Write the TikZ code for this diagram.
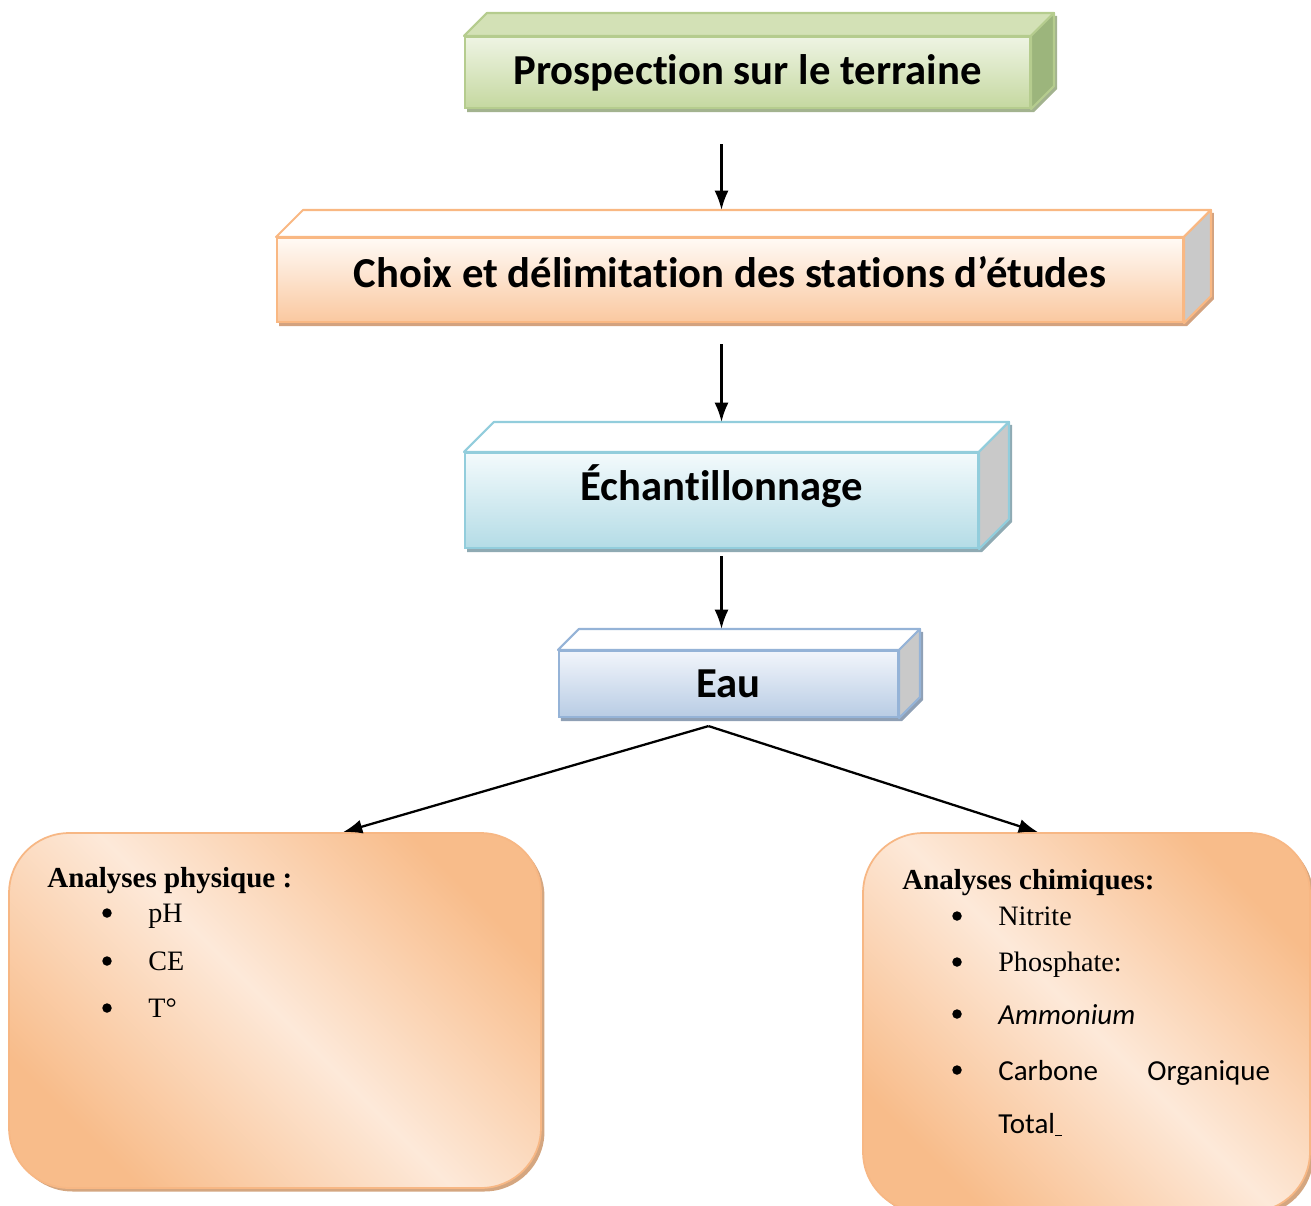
\documentclass[tikz,border=0pt]{standalone}
\usepackage{fontspec}
\setmainfont{Liberation Serif}
\newfontfamily\calibri[Ligatures=NoCommon]{Carlito}
\usetikzlibrary{arrows.meta,shadows}
\pgfdeclarelayer{back}
\pgfsetlayers{back,main}
\definecolor{verttop}{HTML}{D3E1B6}
\definecolor{verthaut}{HTML}{EEF4E3}
\definecolor{vertbas}{HTML}{C5D8A0}
\definecolor{vertbord}{HTML}{B5CC8E}
\definecolor{vertcote}{HTML}{9CB57C}
\definecolor{vertombre}{HTML}{A3B38F}
\definecolor{orhaut}{HTML}{FFFAF5}
\definecolor{orbas}{HTML}{FAC8A0}
\definecolor{orbord}{HTML}{F9B883}
\definecolor{orombre}{HTML}{D3A27F}
\definecolor{bleuhaut}{HTML}{F3FAFC}
\definecolor{bleubas}{HTML}{B4DCE6}
\definecolor{bleubord}{HTML}{92CDDC}
\definecolor{bleuombre}{HTML}{8FAAB3}
\definecolor{eauhaut}{HTML}{F2F5FB}
\definecolor{eaubas}{HTML}{B8CCE4}
\definecolor{eaubord}{HTML}{95B3D7}
\definecolor{eauombre}{HTML}{8FA0B5}
\definecolor{gris}{HTML}{C9C9C9}
\definecolor{orfonce}{HTML}{F8BC8A}
\definecolor{orclair}{HTML}{FDE9D9}
\definecolor{analysebord}{HTML}{F7B784}
\definecolor{analyseombre}{HTML}{D4A680}
\begin{document}
\begin{tikzpicture}[x=0.02cm, y=-0.02cm,
		bloc/.style={draw, line width=1.2pt, inner sep=0pt, font=\calibri\bfseries\fontsize{24.3}{28}\selectfont},
		fleche/.style={-{Latex[length=11pt,width=8pt]}, line width=1.3pt},
		analyse/.style={draw=analysebord, line width=1pt, rounded corners=1.2cm,
			left color=orfonce, right color=orfonce, middle color=orclair, shading angle=-45,
			drop shadow={shadow xshift=2pt, shadow yshift=-2pt, fill=analyseombre, opacity=1}},
		titre/.style={anchor=base west, inner sep=0pt, font=\bfseries\fontsize{16.5}{19}\selectfont},
		item/.style={anchor=base west, inner sep=0pt, font=\fontsize{16}{19}\selectfont},
		itemc/.style={anchor=base west, inner sep=0pt, font=\calibri\fontsize{16.5}{19}\selectfont},
		puce/.style={circle, fill=black, inner sep=0pt, minimum size=0.19cm}
		]
	\useasboundingbox (0,0) rectangle (1311,1205);
	\clip (0,0) rectangle (1311,1205);
	\node [bloc, draw=vertbord, top color=verthaut, bottom color=vertbas, minimum width=11.3cm, minimum height=1.42cm] (prosp) at (747.5,72.5) {Prospection sur le terraine};
	\node [bloc, draw=orbord, top color=orhaut, bottom color=orbas, minimum width=18.12cm, minimum height=1.68cm, text depth=0.32cm] (choix) at (730,280) {Choix et délimitation des stations d’études};
	\node [bloc, draw=bleubord, top color=bleuhaut, bottom color=bleubas, minimum width=10.26cm, minimum height=1.9cm, text depth=0.7cm] (echant) at (721.5,500.5) {Échantillonnage};
	\node [bloc, draw=eaubord, top color=eauhaut, bottom color=eaubas, minimum width=6.78cm, minimum height=1.32cm] (eau) at (728.5,684) {Eau};
	\foreach \n/\d/\dessus/\cote/\bord/\ombre in {prosp/23/verttop/vertcote/vertbord/vertombre,
			choix/27/white/gris/orbord/orombre, echant/30/white/gris/bleubord/bleuombre, eau/21/white/gris/eaubord/eauombre}{
		\filldraw [fill=\dessus, draw=\bord, line width=1.2pt, line join=round] (\n.north west) -- ++(\d,-\d) -- ([shift={(\d,-\d)}]\n.north east) -- (\n.north east) -- cycle;
		\filldraw [fill=\cote, draw=\bord, line width=1.2pt, line join=round] (\n.north east) -- ++(\d,-\d) -- ([shift={(\d,-\d)}]\n.south east) -- (\n.south east) -- cycle;
		\coordinate (\n-haut) at ([yshift=\d*0.02cm]\n.north);
		\begin{pgfonlayer}{back}
			\fill [\ombre, transform canvas={shift={(3,3)}}] (\n.north west) -- ++(\d,-\d) -- ([shift={(\d,-\d)}]\n.north east)
				-- ([shift={(\d,-\d)}]\n.south east) -- (\n.south east) -- (\n.south west) -- cycle;
		\end{pgfonlayer}
	}
	\node [analyse, minimum width=10.64cm, minimum height=7.1cm] (physique) at (275,1010.5) {};
	\node [analyse, minimum width=8.94cm, minimum height=7.58cm] (chimique) at (1086.5,1022.5) {};
	\draw [fleche, shorten <=0.7cm] (prosp.south -| echant.north) -- (choix-haut -| echant.north);
	\draw [fleche, shorten <=0.42cm] (choix.south -| echant.north) -- (echant-haut);
	\draw [fleche, shorten <=0.14cm] (echant.south) -- (eau-haut -| echant.south);
	\coordinate (depart) at ([shift={(-20,8)}]eau.south);
	\draw [fleche] (depart) -- ([xshift=1.36cm]physique.north);
	\draw [fleche] (depart) -- ([xshift=-0.97cm]chimique.north);
	\node [titre] (physique-titre) at (47,887) {Analyses physique :};
	\foreach \t/\y [count=\i] in {pH/922, CE/970, T°/1017}{
		\node [puce] (pp\i) at (107,\y-9) {};
		\node [item] (pt\i) at (148,\y) {\t};
	}
	\node [titre] (chimique-titre) at (902,889) {Analyses chimiques:};
	\foreach \y in {916, 962, 1014, 1070}{
		\node [puce] at (957,\y) {};
	}
	\node [item] (ct1) at (998,925) {Nitrite};
	\node [item] (ct2) at (998,971) {Phosphate:};
	\node [itemc, font=\calibri\itshape\fontsize{16.5}{19}\selectfont] (ct3) at (998,1024) {Ammonium};
	\node [itemc] (ct4) at (998,1080) {Carbone};
	\node [itemc] (ct5) at (1147,1080) {Organique};
	\node [itemc] (ct6) at (998,1133) {Total\underline{\hspace{4pt}}};
\end{tikzpicture}
\end{document}
